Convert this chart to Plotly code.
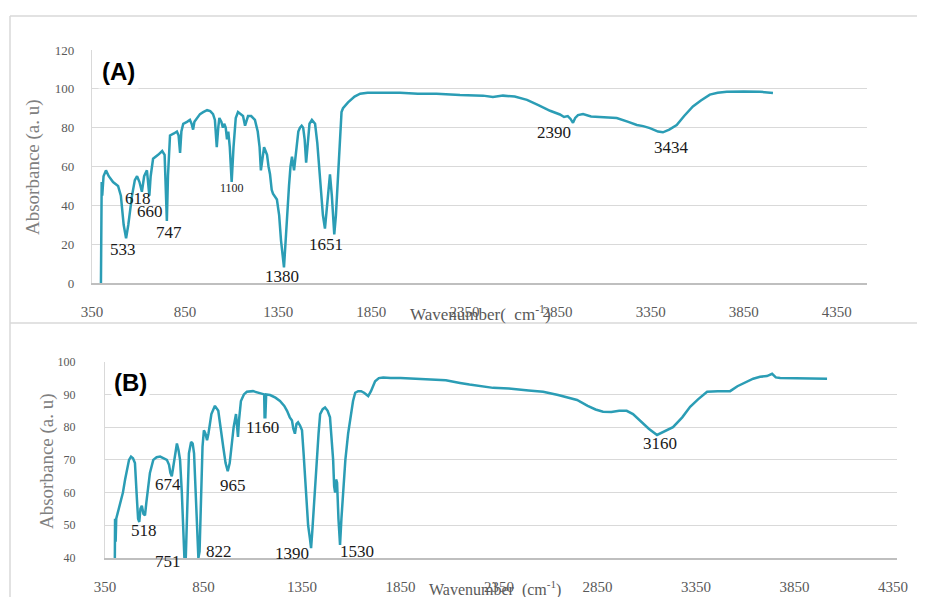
import plotly.graph_objects as go

# ---------------- Data: panel (A) ----------------
wn_a = [398, 399, 402, 405, 412, 425, 440, 463, 490, 505, 520, 533, 545, 565, 580, 592, 605, 618, 630, 645,
        652, 658, 665, 678, 705, 727, 740, 747, 752, 758, 769, 790, 806, 815, 823, 830, 840, 860, 876, 885,
        893, 900, 914, 930, 947, 968, 985, 1000, 1010, 1020, 1028, 1034, 1045, 1053, 1060, 1068, 1075, 1082,
        1090, 1100, 1110, 1122, 1134, 1150, 1161, 1172, 1180, 1188, 1205, 1225, 1240, 1250, 1257, 1265, 1274,
        1282, 1290, 1298, 1306, 1315, 1322, 1343, 1355, 1365, 1381, 1392, 1400, 1408, 1416, 1424, 1435, 1445,
        1458, 1467, 1476, 1484, 1492, 1500, 1508, 1518, 1531, 1548, 1560, 1575, 1590, 1601, 1612, 1628, 1638,
        1645, 1651, 1660, 1675, 1690, 1698, 1725, 1760, 1790, 1830, 1880, 1950, 2004, 2100, 2200, 2326, 2450,
        2503, 2557, 2620, 2686, 2750, 2810, 2863, 2885, 2905, 2920, 2933, 2945, 2960, 2987, 3030, 3078, 3168,
        3230, 3276, 3310, 3346, 3390, 3416, 3450, 3490, 3530, 3577, 3620, 3668, 3710, 3759, 3850, 3937, 4007]
abs_a = [0, 44, 52, 45, 55, 58, 55, 52, 50, 45, 30, 23, 30, 45, 53, 55, 52, 47, 55, 58,
         52, 45, 55, 64, 66, 68, 66, 50, 32, 55, 76, 77, 78, 76, 67, 78, 82, 83, 84, 82,
         79, 83, 85, 87, 88, 89, 88.5, 87, 84, 70, 80, 85, 83, 80, 82, 80, 74, 78,
         70, 52, 70, 85, 88, 87, 86, 81, 84, 86, 86, 84, 78, 70, 58, 65, 70,
         68, 66, 60, 56, 48, 46, 43, 35, 22, 8, 25, 40, 50, 60, 65, 58, 68,
         78, 80, 81, 80, 74, 62, 70, 82, 84, 82, 72, 55, 35, 28, 40, 56, 45,
         30, 25, 35, 65, 88, 90, 93, 96, 97.5, 98, 98, 97.8, 98, 97.5, 97.5, 96.8, 96.5,
         95.8, 96.5, 96, 94.3, 91.5, 88.7, 86.8, 85.5, 86, 84.5, 82.5, 85, 86.5, 87, 85.8, 85.5, 85,
         83, 81.4, 80.8, 79.8, 78, 77.6, 79, 81.4, 86, 90.9, 94, 97, 98, 98.5, 98.6, 98.5, 97.9]

# ---------------- Data: panel (B) ----------------
wn_b = [400, 401, 404, 407, 415, 426, 441, 452, 462, 472, 482, 492, 502, 508, 512, 518, 524, 530, 537, 545,
        553, 560, 568, 578, 595, 612, 630, 648, 664, 675, 682, 689, 697, 705, 715, 723, 731, 740, 748, 753,
        760, 766, 776, 787, 795, 802, 810, 818, 824, 830, 838, 845, 852, 860, 868, 875, 890, 908, 925, 938,
        950, 962, 973, 983, 993, 1003, 1015, 1020, 1025, 1030, 1040, 1055, 1070, 1101, 1130, 1152, 1158, 1160,
        1164, 1168, 1188, 1215, 1238, 1260, 1274, 1288, 1299, 1306, 1314, 1322, 1330, 1340, 1350, 1358, 1365,
        1372, 1381, 1390, 1396, 1402, 1406, 1412, 1418, 1426, 1434, 1442, 1455, 1467, 1480, 1492, 1500, 1508,
        1513, 1518, 1523, 1528, 1535, 1543, 1550, 1558, 1570, 1584, 1597, 1609, 1620, 1635, 1650, 1665, 1686,
        1700, 1721, 1740, 1762, 1800, 1850, 1934, 2000, 2080, 2152, 2200, 2320, 2400, 2500, 2574, 2650, 2700,
        2746, 2800, 2840, 2878, 2920, 2960, 2998, 3030, 3066, 3110, 3152, 3190, 3233, 3280, 3320, 3360, 3406,
        3460, 3523, 3560, 3609, 3640, 3675, 3710, 3736, 3755, 3777, 3850, 3950, 4015]
abs_b = [40, 52, 45, 52, 54, 56, 60, 64, 67, 70, 71, 70.5, 69, 64, 58, 52, 51, 55, 56, 53.5,
         53, 57, 62, 66, 70, 70.8, 71, 70.5, 70, 68.5, 66, 65, 68, 72, 75, 73, 70, 60, 48, 40,
         40, 55, 72, 75.5, 75, 72, 60, 48, 40, 42, 60, 74, 79, 78, 76, 78, 84, 86.5, 85, 80,
         74, 69, 66.5, 69, 75, 80, 84, 80, 77, 82, 88, 90, 90.8, 91, 90.5, 90, 90, 83,
         83, 90, 89.8, 89, 88, 86.5, 85, 83, 82, 79.5, 78, 81, 81.5, 80.5, 79, 72, 65,
         57, 50, 46, 43, 48, 52, 58, 64, 70, 78, 84, 85.5, 86, 85, 83, 76, 70,
         62, 60, 64, 63, 52, 44, 52, 60, 70, 78, 84, 88, 90.5, 91, 91, 90.5, 89.5,
         91, 94, 95, 95.2, 95, 95, 94.8, 94.5, 94.3, 93.5, 93, 92, 91.8, 91.2, 90.8, 89.8, 89,
         88.3, 86.5, 85.4, 84.7, 84.6, 85, 85, 84, 82, 79.5, 77.6, 78.8, 80, 83, 86.2, 88.5, 90.8,
         91, 91, 92.5, 93.8, 94.8, 95.4, 95.6, 96.3, 95.2, 95, 94.9, 94.8, 94.8]

# ---------------- Peak labels ----------------
labels_a = ["533", "618", "660", "747", "1100", "1380", "1651", "2390", "3434"]
lab_a_x = [516, 597, 661, 764, 1102, 1370, 1607, 2831, 3460]
lab_a_y = [17, 43.3, 36.6, 25.8, 49, 3.1, 20, 77.3, 70]

labels_b = ["518", "674", "751", "822", "965", "1160", "1390", "1530", "3160"]
lab_b_x = [548, 670, 670, 929, 1000, 1147, 1299, 1629, 3167]
lab_b_y = [48.3, 62.6, 40.2, 42.1, 62.3, 80, 41.5, 42.1, 74.9]
lab_b_shift = [0, 0, -4, 0, 0, 0, 0, 0, 0]

x_ticks = [350, 850, 1350, 1850, 2350, 2850, 3350, 3850, 4350]
y_ticks_a = [0, 20, 40, 60, 80, 100, 120]
y_ticks_b = [40, 50, 60, 70, 80, 90, 100]

W, H = 925, 597
OFF = 8  # the page places the figure 8 px from the top-left corner
LINE = "#2b9db5"
GRID = "#d9d9d9"
TICKC = "#595959"
SERIF = "Liberation Serif, DejaVu Serif, serif"


def fx(px):
    return (px - OFF) / W


def fy(py):
    return 1 - (py - OFF) / H


fig = go.Figure()
fig.add_trace(go.Scatter(x=wn_a, y=abs_a, mode="lines", line=dict(color=LINE, width=2.5),
                         xaxis="x", yaxis="y", showlegend=False))
fig.add_trace(go.Scatter(x=wn_b, y=abs_b, mode="lines", line=dict(color=LINE, width=2.5),
                         xaxis="x2", yaxis="y2", showlegend=False))

common_x = dict(tickvals=x_ticks, ticktext=[str(v) for v in x_ticks], showgrid=False, zeroline=False,
                showline=True, linecolor="#bfbfbf", linewidth=1.5, ticks="", automargin=False,
                tickfont=dict(family=SERIF, size=15, color=TICKC), ticklabelstandoff=14)
common_y = dict(showgrid=True, gridcolor=GRID, gridwidth=1.2, zeroline=False, showline=True,
                linecolor=GRID, linewidth=1.2, ticks="", automargin=False)

fig.update_layout(
    template="none",
    width=W, height=H, margin=dict(l=0, r=0, t=0, b=0, autoexpand=False),
    paper_bgcolor="white", plot_bgcolor="white",
    xaxis=dict(domain=[fx(92), fx(867)], range=[350, 4512], anchor="y", **common_x),
    yaxis=dict(domain=[fy(283), fy(50)], range=[0, 120], tickvals=y_ticks_a, anchor="x",
               tickfont=dict(family=SERIF, size=13, color=TICKC), ticklabelstandoff=14, **common_y),
    xaxis2=dict(domain=[fx(105), fx(897)], range=[350, 4370], anchor="y2", **common_x),
    yaxis2=dict(domain=[fy(558), fy(361.7)], range=[40, 100], tickvals=y_ticks_b, anchor="x2",
                tickfont=dict(family=SERIF, size=12, color=TICKC), ticklabelstandoff=26, **common_y),
)

annos = []
for t, x, y in zip(labels_a, lab_a_x, lab_a_y):
    annos.append(dict(x=x, y=y, xref="x", yref="y", text=t, showarrow=False,
                      xanchor="center", yanchor="middle",
                      font=dict(family=SERIF, size=12 if t == "1100" else 17, color="#1a1a1a")))
for t, x, y, s in zip(labels_b, lab_b_x, lab_b_y, lab_b_shift):
    annos.append(dict(x=x, y=y, xref="x2", yref="y2", text=t, showarrow=False,
                      xanchor="center", yanchor="middle", yshift=s,
                      font=dict(family=SERIF, size=17, color="#1a1a1a")))

# panel tags
annos.append(dict(x=fx(118), y=fy(72), xref="paper", yref="paper", text="<b>(A)</b>", showarrow=False,
                  xanchor="center", yanchor="middle",
                  font=dict(family="Liberation Sans, Arial, sans-serif", size=24, color="black"),
                  bgcolor="white", borderpad=3))
annos.append(dict(x=fx(130), y=fy(382), xref="paper", yref="paper", text="<b>(B)</b>", showarrow=False,
                  xanchor="center", yanchor="middle",
                  font=dict(family="Liberation Sans, Arial, sans-serif", size=24, color="black"),
                  bgcolor="white", borderpad=2))

# axis titles
annos.append(dict(x=fx(480), y=fy(313), xref="paper", yref="paper",
                  text="Wavenumber(  cm<sup>-1</sup>)", showarrow=False,
                  xanchor="center", yanchor="middle",
                  font=dict(family=SERIF, size=17, color=TICKC)))
annos.append(dict(x=fx(495), y=fy(588), xref="paper", yref="paper",
                  text="Wavenumber  (cm<sup>-1</sup>)", showarrow=False,
                  xanchor="center", yanchor="middle",
                  font=dict(family=SERIF, size=16, color=TICKC)))
annos.append(dict(x=fx(33), y=fy(167), xref="paper", yref="paper", text="Absorbance (a. u)",
                  xanchor="center", yanchor="middle",
                  textangle=-90, showarrow=False, font=dict(family=SERIF, size=19, color="#808080")))
annos.append(dict(x=fx(47), y=fy(461), xref="paper", yref="paper", text="Absorbance (a. u)",
                  xanchor="center", yanchor="middle",
                  textangle=-90, showarrow=False, font=dict(family=SERIF, size=19, color="#808080")))
fig.update_layout(annotations=annos)

# panel frames
BC = "#d9d9d9"
shapes = [
    dict(type="line", xref="paper", yref="paper", x0=fx(10), x1=1, y0=fy(16), y1=fy(16),
         line=dict(color=BC, width=1.5)),
    dict(type="line", xref="paper", yref="paper", x0=fx(10), x1=1, y0=fy(323), y1=fy(323),
         line=dict(color=BC, width=1.5)),
    dict(type="line", xref="paper", yref="paper", x0=fx(10), x1=fx(10), y0=fy(16), y1=0,
         line=dict(color=BC, width=1.5)),
]
fig.update_layout(shapes=shapes)

fig.write_html("out.html")
